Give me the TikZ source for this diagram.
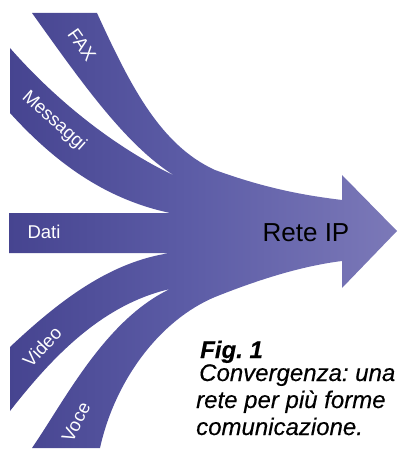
\documentclass[tikz,border=0pt]{standalone}
\usepackage{fontspec}
\setmainfont{Liberation Sans}
\newfontfamily\capfont[FakeBold=0.3]{Liberation Sans}
\definecolor{bandA}{HTML}{2E2A78}
\definecolor{bandB}{HTML}{5C5CA6}
\definecolor{bandD}{HTML}{7F7CBA}
\definecolor{bandC}{HTML}{AAA6D2}
\pgfdeclarehorizontalshading{bandshade}{100bp}{color(0bp)=(bandA); color(48bp)=(bandB); color(78bp)=(bandD); color(100bp)=(bandC)}
\tikzset{
  lbl/.style={text=white, font=\fontsize{18.5}{18.5}\selectfont, inner sep=0pt},
  captext/.style={anchor=base west, inner sep=0pt, font=\capfont\fontsize{24}{24}\selectfont\itshape},
}
\frenchspacing
\begin{document}
\frenchspacing
\begin{tikzpicture}[x=1pt, y=-1pt]
\useasboundingbox (0,0) rectangle (397,449);
\shade[shading=bandshade]
 (32,13) -- (97,13) .. controls (130,85) and (160,145) .. (215,170)
 .. controls (270,190) and (310,196) .. (342,200)
 -- (342,175) -- (397,231) -- (342,288) -- (342,261)
 .. controls (310,265) and (270,275) .. (215,297)
 .. controls (160,320) and (115,380) .. (100,448)
 -- (32,448) .. controls (65,400) and (105,320) .. (170,289)
 .. controls (100,305) and (50,360) .. (10,411)
 -- (10,347) .. controls (60,300) and (110,262) .. (170,253)
 -- (9,253) -- (9,213) -- (170,213)
 .. controls (110,200) and (60,168) .. (10,113)
 -- (10,48) .. controls (60,105) and (120,150) .. (175,176)
 .. controls (125,145) and (80,80) .. (32,13) -- cycle;
\node[lbl, rotate=-55] (fax) at (82,45) {FAX};
\node[lbl, rotate=-42] (msg) at (54,121) {Messaggi};
\node[lbl] (dati) at (44,232) {Dati};
\node[lbl, rotate=47] (video) at (42,347) {Video};
\node[lbl, rotate=63] (voce) at (76,422) {Voce};
\node[font=\fontsize{26}{26}\selectfont, inner sep=0pt] (rete) at (306,233) {Rete IP};
\node[captext, font=\capfont\fontsize{24}{24}\selectfont\bfseries\itshape] (fig) at (200,358) {Fig. 1};
\node[captext] (l1) at (199,381) {Convergenza: una};
\node[captext] (l2) at (196,408) {rete per più forme};
\node[captext] (l3) at (196,435) {comunicazione.};
\end{tikzpicture}
\end{document}
